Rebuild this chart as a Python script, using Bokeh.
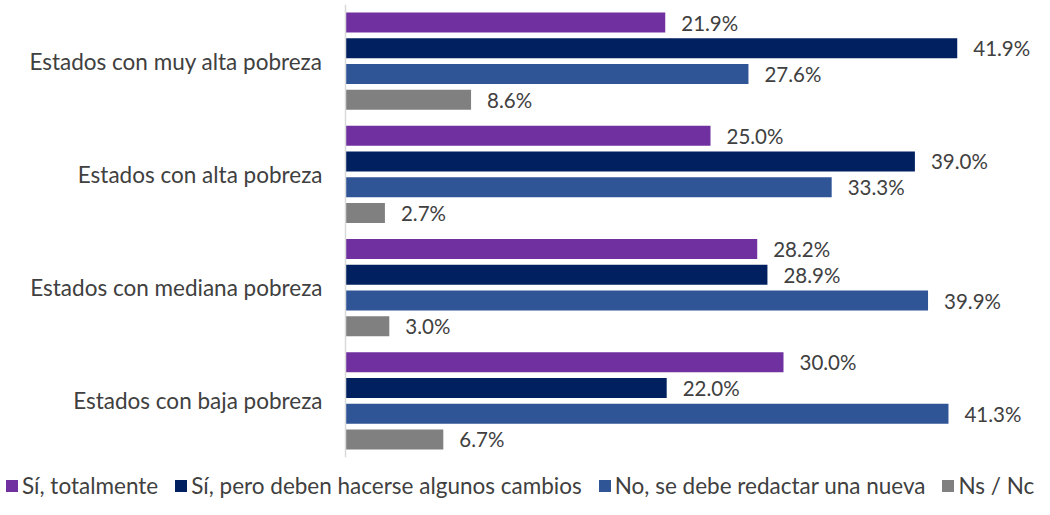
from bokeh.plotting import figure
from bokeh.models import ColumnDataSource, FactorRange, Range1d, Legend, LegendItem, Span
from bokeh.layouts import column
from bokeh.transform import dodge
from bokeh.core.properties import value
from bokeh.embed import file_html
from bokeh.resources import INLINE

categories = ["Estados con muy alta pobreza", "Estados con alta pobreza",
              "Estados con mediana pobreza", "Estados con baja pobreza"]
series_names = ["Sí, totalmente", "Sí, pero deben hacerse algunos cambios",
                "No, se debe redactar una nueva", "Ns / Nc"]
si_totalmente = [21.9, 25.0, 28.2, 30.0]
si_cambios = [41.9, 39.0, 28.9, 22.0]
no_nueva = [27.6, 33.3, 39.9, 41.3]
ns_nc = [8.6, 2.7, 3.0, 6.7]
colors = ["#7030A0", "#002060", "#2F5597", "#808080"]

series_values = [si_totalmente, si_cambios, no_nueva, ns_nc]
offsets = [0.341, 0.114, -0.114, -0.341]
FONT = "Lato"
TEXT = "#404040"

W = 1034
AXIS_PX = 345      # pixel position of the value axis
PX_PER_UNIT = 14.6

p = figure(width=W, height=458, output_backend="svg", toolbar_location=None,
           y_range=FactorRange(factors=categories[::-1]),
           x_range=Range1d(-AXIS_PX / PX_PER_UNIT, (W - AXIS_PX) / PX_PER_UNIT),
           min_border_left=0, min_border_right=0, min_border_top=4, min_border_bottom=1)
p.outline_line_color = None
p.xgrid.visible = False
p.ygrid.visible = False
p.xaxis.visible = False
p.yaxis.visible = False

p.add_layout(Span(location=0, dimension="height", line_color="#d9d9d9", line_width=1.5))

cat_src = ColumnDataSource(dict(cat=categories, x0=[0] * len(categories)))
p.text(x="x0", y="cat", text="cat", source=cat_src, x_offset=-23,
       text_align="right", text_baseline="middle",
       text_font=value(FONT), text_font_size="22.5px", text_color=TEXT)

for name, vals, col, off in zip(series_names, series_values, colors, offsets):
    src = ColumnDataSource(dict(cat=categories, v=vals, lab=[f"{x:.1f}%" for x in vals]))
    p.hbar(y=dodge("cat", off, range=p.y_range), right="v", left=0, height=0.177,
           fill_color=col, line_color=None, source=src)
    p.text(x="v", y=dodge("cat", off, range=p.y_range), text="lab", source=src,
           x_offset=16, text_baseline="middle", text_align="left",
           text_font=value(FONT), text_font_size="20.5px", text_color=TEXT)

# legend strip
lg = figure(width=W, height=41, output_backend="svg", toolbar_location=None,
            x_range=Range1d(0, 1), y_range=Range1d(0, 1),
            x_axis_location=None, y_axis_location=None,
            min_border_left=0, min_border_right=0, min_border_top=0, min_border_bottom=0)
lg.outline_line_color = None
lg.xgrid.visible = False
lg.ygrid.visible = False
items = []
for name, col in zip(series_names, colors):
    r = lg.hbar(y=[-5], right=[-5], left=[-6], height=0.5, fill_color=col, line_color=None)
    items.append(LegendItem(label=name, renderers=[r]))
legend = Legend(items=items, orientation="horizontal", location=(4, 0),
                label_text_font=FONT, label_text_font_size="22.5px", label_text_color=TEXT,
                glyph_width=15, glyph_height=15, label_standoff=3, spacing=15,
                padding=0, margin=0, border_line_color=None, background_fill_alpha=0)
lg.add_layout(legend, "center")

layout = column(p, lg, spacing=0)
open("out.html", "w").write(file_html(layout, INLINE))
